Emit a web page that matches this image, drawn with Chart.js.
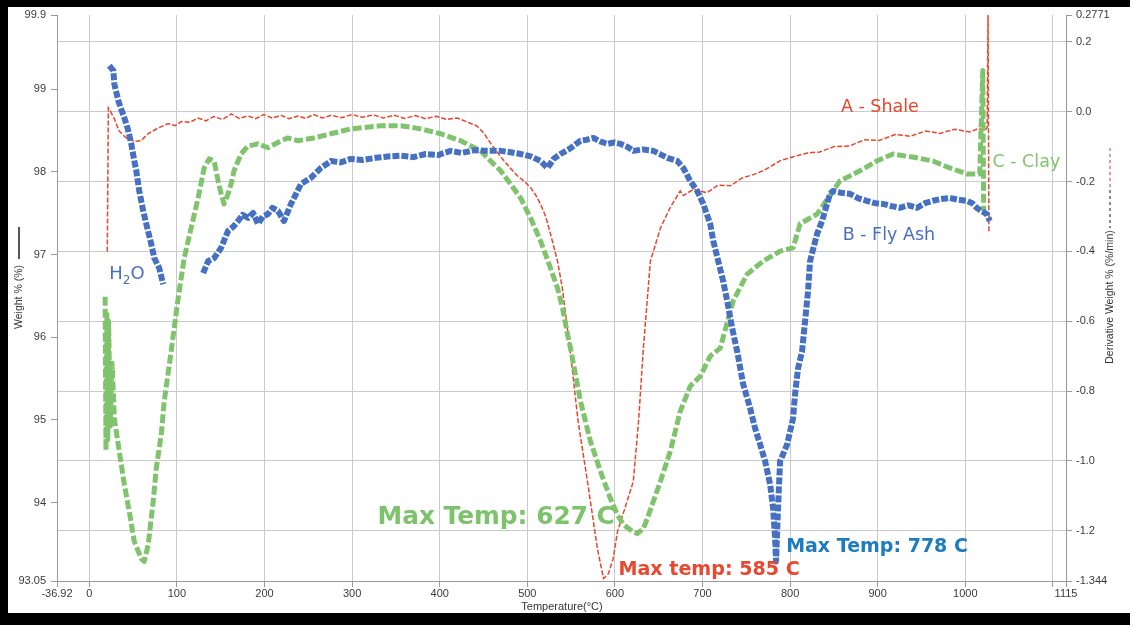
<!DOCTYPE html>
<html><head><meta charset="utf-8">
<script src="https://cdn.jsdelivr.net/npm/chart.js@4.4.1/dist/chart.umd.min.js"></script>
<style>
html,body{margin:0;padding:0;background:#fff;}
#wrap{position:relative;width:1130px;height:625px;overflow:hidden;background:#fff;}
#c{position:absolute;left:0;top:0;}
#frame{position:absolute;left:0;top:0;width:1130px;height:625px;box-sizing:border-box;border-left:8px solid #000;border-top:7px solid #000;border-bottom:12px solid #000;pointer-events:none;}
</style></head><body>
<div id="wrap"><canvas id="c" width="1130" height="625"></canvas><div id="frame"></div></div>
<script>
// ---- axis ticks ----
const xTickValues = [-36.92, 0, 100, 200, 300, 400, 500, 600, 700, 800, 900, 1000, 1100, 1115];
const xTickLabels = ['-36.92','0','100','200','300','400','500','600','700','800','900','1000','','1115'];
const leftTickValues = [99.9, 99, 98, 97, 96, 95, 94, 93.05];
const leftTickLabels = ['99.9','99','98','97','96','95','94','93.05'];
const rightTickValues = [0.2771, 0.2, 0.0, -0.2, -0.4, -0.6, -0.8, -1.0, -1.2, -1.344];
const rightTickLabels = ['0.2771','0.2','0.0','-0.2','-0.4','-0.6','-0.8','-1.0','-1.2','-1.344'];

// ---- A - Shale (derivative weight %/min) ----
const shaleT = [20.5,21.7,25,28.5,34,42,52,59,67,79,90,98,105,115,124,133,142,152,162,171,181,190,199,209,219,228,238,247,256,266,276,288,300,312,324,336,348,360,372,384,396,408,420,432,442,450,458,470,480,489,497,504,510,515,521,526.5,534.5,540,549,558,568.7,580,587,592.6,598,603,612,621,627,632.5,640.5,652,663,674.6,678,690,705,718,732,745,758,770,789,805,820,834,850,868,885,902,920,937,955,971,988,1005,1015,1022,1025,1026,1027];
const shaleV = [-0.40,0.011,-0.003,-0.020,-0.055,-0.075,-0.085,-0.083,-0.063,-0.046,-0.034,-0.040,-0.028,-0.030,-0.018,-0.026,-0.014,-0.022,-0.006,-0.019,-0.012,-0.020,-0.008,-0.018,-0.010,-0.020,-0.012,-0.019,-0.008,-0.018,-0.010,-0.017,-0.008,-0.016,-0.009,-0.018,-0.010,-0.019,-0.011,-0.020,-0.013,-0.022,-0.018,-0.030,-0.040,-0.060,-0.090,-0.130,-0.160,-0.184,-0.200,-0.218,-0.240,-0.264,-0.300,-0.350,-0.428,-0.505,-0.686,-0.887,-1.059,-1.251,-1.337,-1.323,-1.280,-1.202,-1.131,-1.059,-0.887,-0.677,-0.428,-0.333,-0.275,-0.227,-0.240,-0.222,-0.232,-0.210,-0.212,-0.190,-0.180,-0.168,-0.140,-0.128,-0.118,-0.115,-0.100,-0.098,-0.080,-0.082,-0.065,-0.070,-0.055,-0.062,-0.050,-0.058,-0.048,-0.055,-0.045,0.28,-0.345];

// ---- B - Fly Ash ----
const flyAshT = [22.8,27.4,28.5,33.0,36,39.9,44,47.9,51.3,53.6,57.0,61.5,65.0,70.7,74.1,79.8,84.3,100,129.9,135.6,142.5,150.4,158.4,164,169.8,175,181.2,187,192.6,198,204.0,209,215.4,222.2,230.2,236,241.6,253.0,264.4,275.8,287,298.6,312,327,341,355.6,370,384,398,412.5,425,440,452.4,469.5,481,492.3,504,515.1,523,530,537.9,549,560.7,568,575.5,583,591.5,599,606.3,614,621.1,632,643.9,652,659.8,671.2,678.1,686.0,694.0,700.9,708.8,712.3,718,723.6,728.2,733.9,739.6,746.4,754.4,760.1,765.8,771.5,777.2,780.6,782.9,784,786,788.6,796.6,803.4,805.7,809.1,813.7,817.1,820.5,822.8,830.8,836.5,845.6,849,858,868.4,878,887.7,897,906,915,925.4,935,944.7,954,963,972,982.3,992,1001.7,1008,1013,1019,1024.5,1028];
const flyAshV = [0.132,0.118,0.080,0.032,0.010,-0.017,-0.050,-0.092,-0.141,-0.169,-0.227,-0.284,-0.321,-0.379,-0.419,-0.448,-0.494,null,-0.462,-0.428,-0.419,-0.390,-0.341,-0.330,-0.313,-0.295,-0.304,-0.290,-0.321,-0.300,-0.293,-0.275,-0.284,-0.313,-0.264,-0.235,-0.207,-0.189,-0.161,-0.141,-0.145,-0.135,-0.138,-0.132,-0.128,-0.126,-0.130,-0.121,-0.124,-0.112,-0.118,-0.110,-0.112,-0.112,-0.116,-0.121,-0.128,-0.141,-0.161,-0.135,-0.121,-0.105,-0.083,-0.080,-0.075,-0.085,-0.092,-0.088,-0.092,-0.100,-0.112,-0.108,-0.112,-0.122,-0.132,-0.141,-0.161,-0.198,-0.227,-0.264,-0.321,-0.370,-0.428,-0.485,-0.542,-0.620,-0.686,-0.780,-0.849,-0.907,-0.953,-1.001,-1.067,-1.136,-1.222,-1.288,-1.150,-1.001,-0.953,-0.878,-0.809,-0.735,-0.686,-0.600,-0.514,-0.428,-0.350,-0.313,-0.235,-0.227,-0.232,-0.235,-0.248,-0.255,-0.262,-0.264,-0.270,-0.275,-0.268,-0.275,-0.262,-0.255,-0.250,-0.247,-0.252,-0.255,-0.262,-0.275,-0.285,-0.293,-0.313];

// ---- C - Clay ----
const clayT = [18,19,20,21,22,24,26,28.5,34.2,39.9,45.6,51.3,59.3,62.7,67.2,72.9,76.4,82.1,85.5,93.4,101.4,108.3,116.2,124.2,131.1,136.8,142.5,147.0,150.4,153.8,158.4,161.8,165.2,173.2,181.2,192.6,204.0,218.8,226.8,238.2,256.4,275.8,298.6,332.8,355.6,378.3,401.1,423.9,446.7,458.1,469.5,480.9,492.3,503.7,515.1,526.5,534.5,540.2,545.9,549.3,560.7,572.1,583.5,594.9,602.8,609.7,620,625.6,632.5,637.0,643.9,651.9,663.2,674.6,686.0,697.4,708.8,720.2,735,751,769.2,788.6,803.4,811.4,830.8,849,857,879.8,899.1,917.4,944.7,963,982.3,1001.7,1016.5,1020,1021];
const clayV = [-0.53,-0.97,-0.58,-0.94,-0.60,-0.90,-0.72,-0.878,-0.973,-1.067,-1.145,-1.231,-1.280,-1.288,-1.240,-1.116,-1.022,-0.924,-0.829,-0.686,-0.534,-0.419,-0.333,-0.247,-0.161,-0.135,-0.141,-0.198,-0.235,-0.264,-0.235,-0.207,-0.169,-0.121,-0.098,-0.092,-0.103,-0.083,-0.075,-0.083,-0.075,-0.063,-0.049,-0.040,-0.040,-0.049,-0.063,-0.083,-0.112,-0.141,-0.169,-0.207,-0.247,-0.304,-0.370,-0.448,-0.505,-0.562,-0.637,-0.677,-0.829,-0.944,-1.030,-1.108,-1.154,-1.182,-1.202,-1.208,-1.194,-1.165,-1.116,-1.059,-0.973,-0.858,-0.786,-0.758,-0.700,-0.677,-0.542,-0.465,-0.428,-0.399,-0.390,-0.321,-0.293,-0.227,-0.198,-0.169,-0.141,-0.121,-0.132,-0.141,-0.161,-0.178,-0.178,0.118,-0.284];

const zip = (t, v) => t.map((x, i) => ({x: x, y: v[i]}));

const RED = '#e8452c', BLUE = '#4670c2', GREEN = '#7fc46c';

// text annotations placed in data coordinates (x: °C, y: derivative axis)
const notes = [
  {text:'A - Shale', x:858, y:0.017, color:'#e4462f', size:17.5, bold:false},
  {text:'C - Clay', x:1031, y:-0.141, color:'#80c46e', size:17.5, bold:false},
  {text:'B - Fly Ash', x:860, y:-0.350, color:'#4a6fc0', size:17.5, bold:false},
  {text:'Max Temp: 627 C', x:329, y:-1.156, color:'#7cc36b', size:24.8, bold:true},
  {text:'Max temp: 585 C', x:604, y:-1.306, color:'#e8482f', size:19.1, bold:true},
  {text:'Max Temp: 778 C', x:795.5, y:-1.240, color:'#1d7bc0', size:19, bold:true}
];

const notesPlugin = {
  id: 'notes',
  afterDatasetsDraw(chart) {
    const ctx = chart.ctx, xs = chart.scales.x, ys = chart.scales.y2;
    ctx.save();
    ctx.textBaseline = 'alphabetic';
    ctx.textAlign = 'left';
    notes.forEach(n => {
      ctx.font = (n.bold ? 'bold ' : '') + n.size + 'px "DejaVu Sans"';
      ctx.fillStyle = n.color;
      ctx.fillText(n.text, xs.getPixelForValue(n.x), ys.getPixelForValue(n.y) + 0.729 * n.size / 2);
    });
    // H2O
    let px = xs.getPixelForValue(22.8), py = ys.getPixelForValue(-0.459) + 0.729 * 18 / 2;
    ctx.fillStyle = '#4a6fc0';
    ctx.font = '18px "DejaVu Sans"';
    ctx.fillText('H', px, py);
    px += ctx.measureText('H').width;
    ctx.font = '12px "DejaVu Sans"';
    ctx.fillText('2', px, py + 5);
    px += ctx.measureText('2').width;
    ctx.font = '18px "DejaVu Sans"';
    ctx.fillText('O', px, py);
    ctx.restore();
  },
  afterDraw(chart) {
    const ctx = chart.ctx;
    ctx.save();
    ctx.fillStyle = '#333';
    ctx.font = '10.5px "Liberation Sans"';
    ctx.textAlign = 'center';
    ctx.textBaseline = 'middle';
    ctx.translate(19, 297); ctx.rotate(-Math.PI / 2);
    ctx.fillText('Weight % (%)', 0, 0);
    ctx.setTransform(1, 0, 0, 1, 0, 0);
    ctx.translate(1110, 297); ctx.rotate(-Math.PI / 2);
    ctx.fillText('Derivative Weight % (%/min)', 0, 0);
    ctx.setTransform(1, 0, 0, 1, 0, 0);
    ctx.font = '11px "Liberation Sans"';
    ctx.fillText('Temperature(\u00B0C)', 562, 607);
    // series markers beside axis titles
    ctx.lineWidth = 2;
    ctx.strokeStyle = '#555';
    ctx.beginPath(); ctx.moveTo(19, 227); ctx.lineTo(19, 259); ctx.stroke();
    ctx.setLineDash([3, 3]);
    ctx.strokeStyle = '#f29a8a';
    ctx.beginPath(); ctx.moveTo(1110, 148); ctx.lineTo(1110, 187); ctx.stroke();
    ctx.strokeStyle = '#8a8a8a';
    ctx.beginPath(); ctx.moveTo(1110, 190); ctx.lineTo(1110, 228); ctx.stroke();
    ctx.restore();
  }
};

const tickFont = {family: '"Liberation Sans", Arial, sans-serif', size: 11};
const gridCol = '#cacaca', axisCol = '#999';

new Chart(document.getElementById('c'), {
  type: 'line',
  data: {
    datasets: [
      {label:'B - Fly Ash', data: zip(flyAshT, flyAshV), yAxisID:'y2', borderColor: BLUE, borderWidth: 6, borderDash:[7,2], pointRadius:0, tension:0, spanGaps:false, borderJoinStyle:'round'},
      {label:'C - Clay', data: zip(clayT, clayV), yAxisID:'y2', borderColor: GREEN, borderWidth: 5, borderDash:[9,3], pointRadius:0, tension:0, borderJoinStyle:'round'},
      {label:'A - Shale', data: zip(shaleT, shaleV), yAxisID:'y2', borderColor: RED, borderWidth: 1.5, borderDash:[5,2], pointRadius:0, tension:0}
    ]
  },
  options: {
    responsive: false,
    animation: false,
    devicePixelRatio: 1,
    layout: {padding: {top: 15, left: 0, right: 0, bottom: 0}},
    plugins: {legend: {display: false}, tooltip: {enabled: false}},
    scales: {
      x: {
        type: 'linear', min: -36.92, max: 1115,
        afterBuildTicks: s => { s.ticks = xTickValues.map(v => ({value: v})); },
        afterFit: s => { s.height = 44; },
        ticks: {autoSkip: false, maxRotation: 0, padding: 0, color: '#3a3a3a', font: tickFont,
                callback: (v, i) => xTickLabels[i]},
        grid: {color: gridCol, tickColor: axisCol, tickLength: 6, lineWidth: 1},
        border: {color: axisCol}
      },
      y: {
        type: 'linear', position: 'left', min: 93.05, max: 99.9,
        afterBuildTicks: s => { s.ticks = leftTickValues.map(v => ({value: v})); },
        afterFit: s => { s.width = 57; },
        ticks: {autoSkip: false, padding: 5, color: '#3a3a3a', font: tickFont,
                callback: (v, i) => leftTickLabels[i]},
        grid: {drawOnChartArea: false, tickColor: axisCol, tickLength: 6},
        border: {color: axisCol}
      },
      y2: {
        type: 'linear', position: 'right', min: -1.344, max: 0.2771,
        afterBuildTicks: s => { s.ticks = rightTickValues.map(v => ({value: v})); },
        afterFit: s => { s.width = 64; },
        ticks: {autoSkip: false, padding: 4, color: '#3a3a3a', font: tickFont,
                callback: (v, i) => rightTickLabels[i]},
        grid: {color: c => (c.tick && c.tick.value === 0.2771) ? 'rgba(0,0,0,0)' : gridCol, tickColor: axisCol, tickLength: 6},
        border: {color: axisCol}
      }
    }
  },
  plugins: [notesPlugin]
});
</script>
</body></html>
